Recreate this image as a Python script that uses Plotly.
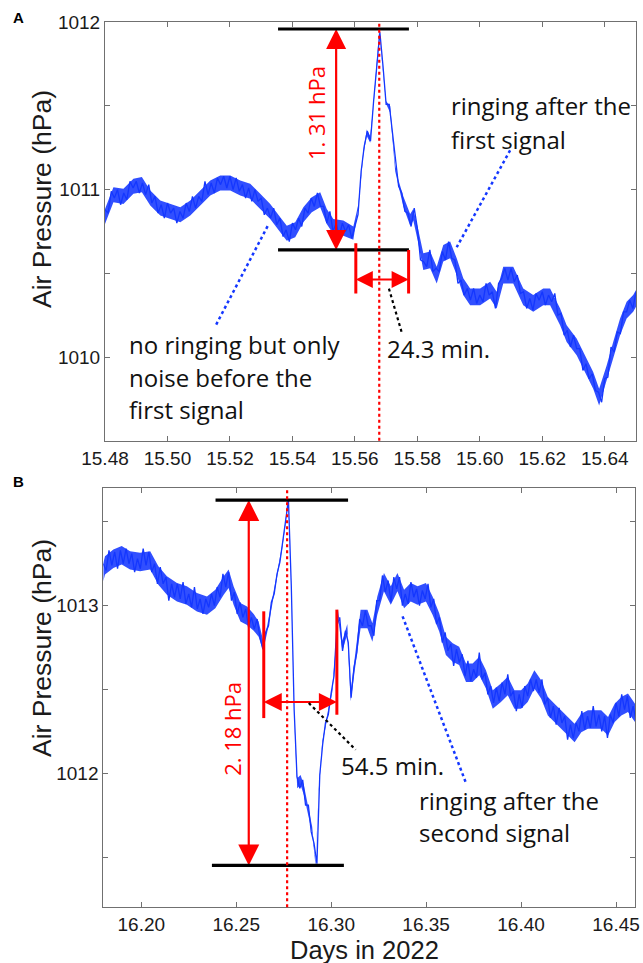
import plotly.graph_objects as go

# ---------------- Panel A: air pressure (hPa), sampled every dt_a days from t0_a ----------------
t0_a, dt_a = 15.480, 0.001
p_a = [1010.88, 1010.86, 1010.99, 1010.95, 1011.00, 1010.91, 1010.98, 1010.94, 1011.05, 1011.01,
       1011.05, 1010.98, 1011.04, 1010.97, 1011.03, 1010.92, 1010.96, 1010.86, 1010.91, 1010.83,
       1010.92, 1010.86, 1010.89, 1010.80, 1010.87, 1010.83, 1010.92, 1010.87, 1010.96, 1010.89,
       1010.96, 1010.93, 1011.05, 1010.97, 1011.04, 1010.98, 1011.07, 1011.03, 1011.08, 1011.01,
       1011.08, 1011.00, 1011.07, 1010.99, 1011.03, 1010.95, 1011.01, 1010.93, 1011.00, 1010.93,
       1010.95, 1010.85, 1010.89, 1010.83, 1010.89, 1010.79, 1010.83, 1010.72, 1010.76, 1010.69,
       1010.80, 1010.76, 1010.83, 1010.78, 1010.89, 1010.86, 1010.95, 1010.90, 1010.98, 1010.90,
       1010.90, 1010.80, 1010.87, 1010.75, 1010.80, 1010.72, 1010.80, 1010.75, 1010.79, 1010.71,
       1010.78, 1010.85, 1011.11, 1011.26, 1011.35, 1011.29, 1011.53, 1011.73, 1011.94, 1011.74,
       1011.51, 1011.51, 1011.34, 1011.16, 1011.02, 1010.98, 1010.87, 1010.86, 1010.78, 1010.89,
       1010.77, 1010.58, 1010.57, 1010.54, 1010.64, 1010.51, 1010.53, 1010.51, 1010.63, 1010.58,
       1010.69, 1010.59, 1010.58, 1010.44, 1010.46, 1010.37, 1010.41, 1010.34, 1010.41, 1010.32,
       1010.37, 1010.33, 1010.44, 1010.37, 1010.39, 1010.29, 1010.44, 1010.47, 1010.53, 1010.46,
       1010.53, 1010.45, 1010.49, 1010.38, 1010.39, 1010.29, 1010.35, 1010.28, 1010.38, 1010.34,
       1010.39, 1010.31, 1010.37, 1010.33, 1010.38, 1010.25, 1010.26, 1010.13, 1010.16, 1010.06,
       1010.13, 1010.05, 1010.05, 1009.92, 1009.96, 1009.87, 1009.90, 1009.80, 1009.79, 1009.73,
       1009.87, 1009.88, 1010.06, 1010.03, 1010.15, 1010.14, 1010.27, 1010.27, 1010.34, 1010.29,
       1010.39]

# Panel A noise band: time, band centre, band half-height (hPa)
te_a = [15.4800, 15.4827, 15.4859, 15.4891, 15.4918, 15.4945, 15.4977, 15.5009, 15.5041, 15.5073,
        15.5105, 15.5137, 15.5169, 15.5201, 15.5233, 15.5265, 15.5297, 15.5329, 15.5361, 15.5382,
        15.5409, 15.5435, 15.5462, 15.5489, 15.5510, 15.5531, 15.5563, 15.5595, 15.5611, 15.5627,
        15.5638, 15.5649, 15.5659, 15.5670, 15.5678, 15.5689, 15.5700, 15.5713, 15.5729, 15.5739,
        15.5755, 15.5777, 15.5787, 15.5803, 15.5819, 15.5841, 15.5862, 15.5883, 15.5905, 15.5926,
        15.5947, 15.5969, 15.6001, 15.6033, 15.6054, 15.6075, 15.6107, 15.6139, 15.6171, 15.6203,
        15.6225, 15.6257, 15.6278, 15.6310, 15.6342, 15.6363, 15.6382, 15.6406, 15.6427, 15.6449,
        15.6470, 15.6491, 15.6500]
ce_a = [1010.84, 1010.97, 1010.96, 1011.02, 1011.03, 1010.95, 1010.89, 1010.87, 1010.85, 1010.89,
        1010.95, 1011.01, 1011.04, 1011.04, 1011.01, 1010.99, 1010.93, 1010.87, 1010.79, 1010.74,
        1010.76, 1010.85, 1010.91, 1010.94, 1010.84, 1010.78, 1010.77, 1010.74, 1010.90, 1011.22,
        1011.34, 1011.30, 1011.49, 1011.73, 1011.95, 1011.73, 1011.52, 1011.48, 1011.13, 1011.04,
        1010.93, 1010.82, 1010.85, 1010.72, 1010.57, 1010.58, 1010.49, 1010.62, 1010.64, 1010.54,
        1010.42, 1010.36, 1010.36, 1010.40, 1010.34, 1010.49, 1010.49, 1010.36, 1010.32, 1010.36,
        1010.36, 1010.24, 1010.14, 1010.06, 1009.94, 1009.86, 1009.76, 1009.90, 1010.04, 1010.18,
        1010.28, 1010.32, 1010.35]
he_a = [0.045, 0.045, 0.045, 0.045, 0.045, 0.045, 0.045, 0.045, 0.045, 0.045,
        0.045, 0.045, 0.045, 0.045, 0.045, 0.045, 0.045, 0.045, 0.045, 0.045,
        0.045, 0.045, 0.045, 0.045, 0.045, 0.045, 0.045, 0.040, 0.012, 0.012,
        0.020, 0.020, 0.008, 0.008, 0.008, 0.008, 0.008, 0.020, 0.020, 0.020,
        0.030, 0.035, 0.035, 0.040, 0.050, 0.050, 0.050, 0.050, 0.050, 0.050,
        0.050, 0.050, 0.050, 0.050, 0.050, 0.050, 0.050, 0.050, 0.050, 0.050,
        0.050, 0.050, 0.050, 0.050, 0.050, 0.050, 0.050, 0.050, 0.050, 0.050,
        0.050, 0.050, 0.050]

# ---------------- Panel B: air pressure (hPa), sampled every dt_b days from t0_b ----------------
t0_b, dt_b = 16.180, 0.0015
p_b = [1013.25, 1013.21, 1013.33, 1013.24, 1013.32, 1013.22, 1013.33, 1013.25, 1013.34, 1013.25,
       1013.31, 1013.20, 1013.28, 1013.22, 1013.34, 1013.24, 1013.32, 1013.20, 1013.25, 1013.13,
       1013.23, 1013.13, 1013.17, 1013.03, 1013.13, 1013.05, 1013.13, 1013.04, 1013.14, 1013.01,
       1013.07, 1012.99, 1013.11, 1012.98, 1013.04, 1012.95, 1013.04, 1012.99, 1013.07, 1013.00,
       1013.11, 1013.05, 1013.19, 1013.11, 1013.20, 1013.03, 1013.08, 1012.95, 1013.02, 1012.93,
       1012.98, 1012.87, 1012.93, 1012.86, 1012.92, 1012.81, 1012.74, 1012.84, 1012.88, 1013.02,
       1013.07, 1013.19, 1013.26, 1013.38, 1013.49, 1013.63, 1013.12, 1012.38, 1011.98, 1011.91,
       1011.96, 1011.81, 1011.81, 1011.65, 1011.58, 1011.46, 1011.99, 1012.17, 1012.30, 1012.35,
       1012.48, 1012.58, 1012.88, 1012.93, 1012.73, 1012.85, 1012.78, 1012.45, 1012.63, 1012.72,
       1012.92, 1012.88, 1012.97, 1012.88, 1012.88, 1012.82, 1013.03, 1013.03, 1013.18, 1013.08,
       1013.15, 1013.02, 1013.17, 1013.10, 1013.17, 1013.00, 1013.07, 1013.01, 1013.14, 1013.05,
       1013.10, 1013.00, 1013.09, 1013.04, 1013.13, 1012.99, 1013.04, 1012.89, 1012.93, 1012.78,
       1012.84, 1012.73, 1012.77, 1012.64, 1012.74, 1012.66, 1012.71, 1012.58, 1012.67, 1012.55,
       1012.62, 1012.57, 1012.72, 1012.56, 1012.60, 1012.47, 1012.52, 1012.42, 1012.51, 1012.43,
       1012.54, 1012.47, 1012.59, 1012.46, 1012.49, 1012.37, 1012.47, 1012.39, 1012.52, 1012.46,
       1012.56, 1012.49, 1012.56, 1012.48, 1012.56, 1012.41, 1012.45, 1012.33, 1012.40, 1012.29,
       1012.39, 1012.30, 1012.34, 1012.20, 1012.29, 1012.21, 1012.30, 1012.25, 1012.37, 1012.26,
       1012.34, 1012.27, 1012.40, 1012.28, 1012.35, 1012.25, 1012.34, 1012.21, 1012.35, 1012.30,
       1012.42, 1012.34, 1012.47, 1012.38, 1012.46, 1012.33, 1012.40, 1012.32]

# Panel B noise band
te_b = [16.1800, 16.1809, 16.1853, 16.1897, 16.1941, 16.1994, 16.2047, 16.2090, 16.2135, 16.2188,
        16.2240, 16.2293, 16.2346, 16.2390, 16.2434, 16.2460, 16.2486, 16.2522, 16.2557, 16.2592,
        16.2618, 16.2642, 16.2663, 16.2689, 16.2716, 16.2742, 16.2759, 16.2771, 16.2782, 16.2795,
        16.2807, 16.2821, 16.2839, 16.2856, 16.2874, 16.2900, 16.2918, 16.2935, 16.2953, 16.2980,
        16.3006, 16.3023, 16.3035, 16.3059, 16.3085, 16.3103, 16.3129, 16.3155, 16.3191, 16.3217,
        16.3243, 16.3278, 16.3314, 16.3349, 16.3384, 16.3419, 16.3455, 16.3499, 16.3534, 16.3569,
        16.3604, 16.3640, 16.3674, 16.3710, 16.3745, 16.3780, 16.3815, 16.3851, 16.3894, 16.3930,
        16.3965, 16.4000, 16.4035, 16.4070, 16.4106, 16.4141, 16.4176, 16.4211, 16.4247, 16.4282,
        16.4317, 16.4352, 16.4387, 16.4422, 16.4458, 16.4493, 16.4528, 16.4563, 16.4600]
ce_b = [1013.20, 1013.24, 1013.28, 1013.30, 1013.27, 1013.26, 1013.27, 1013.18, 1013.12, 1013.08,
        1013.06, 1013.02, 1013.00, 1013.04, 1013.12, 1013.16, 1013.06, 1012.96, 1012.94, 1012.90,
        1012.86, 1012.76, 1012.86, 1013.02, 1013.18, 1013.35, 1013.49, 1013.63, 1013.45, 1012.90,
        1012.30, 1011.94, 1011.96, 1011.90, 1011.80, 1011.66, 1011.46, 1011.90, 1012.18, 1012.34,
        1012.50, 1012.72, 1012.96, 1012.76, 1012.86, 1012.46, 1012.70, 1012.92, 1012.92, 1012.84,
        1013.00, 1013.14, 1013.06, 1013.14, 1013.04, 1013.08, 1013.06, 1013.08, 1013.00, 1012.90,
        1012.76, 1012.72, 1012.70, 1012.60, 1012.60, 1012.64, 1012.56, 1012.44, 1012.48, 1012.52,
        1012.44, 1012.44, 1012.48, 1012.56, 1012.50, 1012.40, 1012.36, 1012.32, 1012.28, 1012.24,
        1012.30, 1012.32, 1012.32, 1012.32, 1012.28, 1012.36, 1012.40, 1012.42, 1012.36]
he_b = [0.055, 0.055, 0.055, 0.055, 0.055, 0.055, 0.055, 0.055, 0.055, 0.055,
        0.055, 0.055, 0.055, 0.055, 0.055, 0.055, 0.055, 0.055, 0.055, 0.050,
        0.045, 0.030, 0.020, 0.020, 0.015, 0.012, 0.010, 0.008, 0.008, 0.008,
        0.008, 0.030, 0.030, 0.030, 0.030, 0.020, 0.012, 0.010, 0.010, 0.012,
        0.015, 0.020, 0.020, 0.030, 0.030, 0.030, 0.045, 0.055, 0.055, 0.055,
        0.055, 0.055, 0.055, 0.055, 0.055, 0.055, 0.055, 0.055, 0.055, 0.055,
        0.055, 0.055, 0.055, 0.055, 0.055, 0.055, 0.055, 0.055, 0.055, 0.055,
        0.055, 0.055, 0.055, 0.055, 0.055, 0.055, 0.055, 0.055, 0.055, 0.055,
        0.055, 0.055, 0.055, 0.055, 0.055, 0.055, 0.055, 0.055, 0.055]

# ---------------- Ticks ----------------
xt_a = [15.48, 15.50, 15.52, 15.54, 15.56, 15.58, 15.60, 15.62, 15.64]
xt_b = [16.20, 16.25, 16.30, 16.35, 16.40, 16.45]
yt_a = [1010.0, 1010.5, 1011.0, 1011.5, 1012.0]
yl_a = ["1010", "", "1011", "", "1012"]
yt_b = [1011.5, 1012.0, 1012.5, 1013.0, 1013.5]
yl_b = ["", "1012", "", "1013", ""]

assert len(te_a) == len(ce_a) == len(he_a)
assert len(te_b) == len(ce_b) == len(he_b)
t_a = [round(t0_a + dt_a * i, 5) for i in range(len(p_a))]
t_b = [round(t0_b + dt_b * i, 5) for i in range(len(p_b))]

BLUE = "rgb(20,55,255)"
RED = "rgb(255,0,0)"
W, H = 643, 963

fig = go.Figure()


def add_series(te, ce, he, t, p, xa, ya):
    lo = [c - h for c, h in zip(ce, he)]
    hi = [c + h for c, h in zip(ce, he)]
    fig.add_trace(go.Scatter(x=te + te[::-1], y=hi + lo[::-1], mode="lines", fill="toself",
                             fillcolor="rgba(20,55,255,0.88)", line=dict(width=0),
                             xaxis=xa, yaxis=ya, hoverinfo="skip", showlegend=False))
    fig.add_trace(go.Scatter(x=t, y=p, mode="lines", line=dict(color=BLUE, width=1.3),
                             xaxis=xa, yaxis=ya, showlegend=False))


add_series(te_a, ce_a, he_a, t_a, p_a, "x", "y")
add_series(te_b, ce_b, he_b, t_b, p_b, "x2", "y2")

shapes = []


def seg(xr, yr, x0, y0, x1, y1, color, width, dash="solid"):
    shapes.append(dict(type="line", xref=xr, yref=yr, x0=x0, y0=y0, x1=x1, y1=y1,
                       line=dict(color=color, width=width, dash=dash), layer="above"))


def heads(xa, ya, xs, ys, syms, size):
    fig.add_trace(go.Scatter(x=xs, y=ys, mode="markers", xaxis=xa, yaxis=ya, showlegend=False,
                             hoverinfo="skip",
                             marker=dict(symbol=syms, size=size, color=RED, line=dict(width=0))))


# ---- Panel A annotations ----
A_lo, A_hi = 1010.64, 1011.96
A_x0, A_x1 = 15.5354, 15.5773
A_arrow_t = 15.5540
A_bar_l, A_bar_r = 15.5603, 15.5772
A_harrow_v = 1010.463
A_peak_t = 15.5678

seg("x", "y", A_x0, A_hi, A_x1, A_hi, "black", 3.2)
seg("x", "y", A_x0, A_lo, A_x1, A_lo, "black", 3.2)
seg("x", "y", A_arrow_t, A_lo + 0.05, A_arrow_t, A_hi - 0.05, RED, 2.2)
seg("x", "y", A_bar_l, 1010.68, A_bar_l, 1010.38, RED, 3)
seg("x", "y", A_bar_r, A_lo, A_bar_r, 1010.38, RED, 3)
seg("x", "y", A_bar_l + 0.002, A_harrow_v, A_bar_r - 0.002, A_harrow_v, RED, 2)
shapes.append(dict(type="line", xref="x", yref="y domain", x0=A_peak_t, x1=A_peak_t, y0=0, y1=1,
                   line=dict(color=RED, width=2.2, dash="dot"), layer="above"))
seg("x", "y", 15.6097, 1011.235, 15.5926, 1010.656, BLUE, 2.5, "dot")
seg("x", "y", 15.5156, 1010.194, 15.5322, 1010.787, BLUE, 2.5, "dot")
seg("x", "y", 15.5709, 1010.409, 15.5751, 1010.140, "black", 2.2, "dot")
heads("x", "y", [A_arrow_t, A_arrow_t], [A_hi, A_lo], ["arrow-up", "arrow-down"], 20)
heads("x", "y", [A_bar_l, A_bar_r], [A_harrow_v, A_harrow_v], ["arrow-left", "arrow-right"], 17)

# ---- Panel B annotations ----
B_lo, B_hi = 1011.45, 1013.63
B_arrow_t = 16.2566
B_bar_l, B_bar_r = 16.2645, 16.3030
B_harrow_v = 1012.425
B_peak_t = 16.2768

seg("x2", "y2", 16.2391, B_hi, 16.3089, B_hi, "black", 3.2)
seg("x2", "y2", 16.2372, B_lo, 16.3067, B_lo, "black", 3.2)
seg("x2", "y2", B_arrow_t, B_lo + 0.05, B_arrow_t, B_hi - 0.05, RED, 2.2)
seg("x2", "y2", B_bar_l, 1012.966, B_bar_l, 1012.329, RED, 3)
seg("x2", "y2", B_bar_r, 1012.976, B_bar_r, 1012.349, RED, 3)
seg("x2", "y2", B_bar_l + 0.003, B_harrow_v, B_bar_r - 0.003, B_harrow_v, RED, 2)
shapes.append(dict(type="line", xref="x2", yref="y2 domain", x0=B_peak_t, x1=B_peak_t, y0=0, y1=1,
                   line=dict(color=RED, width=2.2, dash="dot"), layer="above"))
seg("x2", "y2", 16.2882, 1012.419, 16.3129, 1012.140, "black", 2.2, "dot")
seg("x2", "y2", 16.3376, 1012.936, 16.3710, 1011.941, BLUE, 2.5, "dot")
heads("x2", "y2", [B_arrow_t, B_arrow_t], [B_hi, B_lo], ["arrow-up", "arrow-down"], 21)
heads("x2", "y2", [B_bar_l, B_bar_r], [B_harrow_v, B_harrow_v], ["arrow-left", "arrow-right"], 18)

TXT = dict(family="Open Sans, sans-serif", size=24, color="#111")
ann = []


def label(xr, yr, x, y, text, **kw):
    d = dict(xref=xr, yref=yr, x=x, y=y, text=text, showarrow=False, xanchor="left",
             yanchor="middle", font=TXT)
    d.update(kw)
    ann.append(d)


label("x", "y", 15.5900, 1011.500, "ringing after the")
label("x", "y", 15.5900, 1011.302, "first signal")
label("x", "y", 15.4872, 1010.075, "no ringing but only")
label("x", "y", 15.4872, 1009.877, "noise before the")
label("x", "y", 15.4872, 1009.686, "first signal")
label("x", "y", 15.5695, 1010.051, "24.3 min.")
label("x2", "y2", 16.3040, 1012.046, "54.5 min.")
label("x2", "y2", 16.3450, 1011.835, "ringing after the")
label("x2", "y2", 16.3450, 1011.644, "second signal")
label("x", "y", 15.5475, 1011.457, "1. 31 hPa", xanchor="center", textangle=-90,
      font=dict(family="Open Sans, sans-serif", size=22, color=RED))
label("x2", "y2", 16.2478, 1012.265, "2. 18 hPa", xanchor="center", textangle=-90,
      font=dict(family="Open Sans, sans-serif", size=22, color=RED))

TITLE = dict(family="Liberation Sans, Arial, sans-serif", size=26.5, color="#1a1a1a")
label("paper", "paper", 42 / W, 1 - 199 / H, "Air Pressure (hPa)", xanchor="center",
      textangle=-90, font=TITLE)
label("paper", "paper", 42 / W, 1 - 648 / H, "Air Pressure (hPa)", xanchor="center",
      textangle=-90, font=TITLE)
label("paper", "paper", 364 / W, 1 - 950 / H, "Days in 2022", xanchor="center",
      font=dict(family="Liberation Sans, Arial, sans-serif", size=25.5, color="#1a1a1a"))
label("paper", "paper", 18 / W, 1 - 17.5 / H, "<b>A</b>", xanchor="center",
      font=dict(family="Liberation Sans, Arial", size=15, color="black"))
label("paper", "paper", 18 / W, 1 - 481 / H, "<b>B</b>", xanchor="center",
      font=dict(family="Liberation Sans, Arial", size=15, color="black"))

axc = dict(showline=True, linecolor="#707070", linewidth=1, mirror="ticks", ticks="inside",
           ticklen=5, tickcolor="#707070", showgrid=False, zeroline=False, automargin=False,
           tickfont=dict(family="Liberation Sans, Arial, sans-serif", size=19, color="#1a1a1a"))

fig.update_layout(
    width=W, height=H, margin=dict(l=0, r=0, t=0, b=0, pad=0),
    paper_bgcolor="white", plot_bgcolor="white", showlegend=False,
    xaxis=dict(domain=[105 / W, 636 / W], range=[15.48, 15.65], anchor="y",
               tickvals=xt_a, ticktext=[f"{v:.2f}" for v in xt_a], **axc),
    yaxis=dict(domain=[1 - 440.7 / H, 1 - 22.3 / H], range=[1009.5, 1012], anchor="x",
               tickvals=yt_a, ticktext=yl_a, **axc),
    xaxis2=dict(domain=[103.3 / W, 635 / W], range=[16.18, 16.46], anchor="y2",
                tickvals=xt_b, ticktext=[f"{v:.2f}" for v in xt_b], **axc),
    yaxis2=dict(domain=[1 - 907.3 / H, 1 - 488.3 / H], range=[1011.2, 1013.7], anchor="x2",
                tickvals=yt_b, ticktext=yl_b, **axc),
    shapes=shapes, annotations=ann,
)

fig.write_html("out.html")
